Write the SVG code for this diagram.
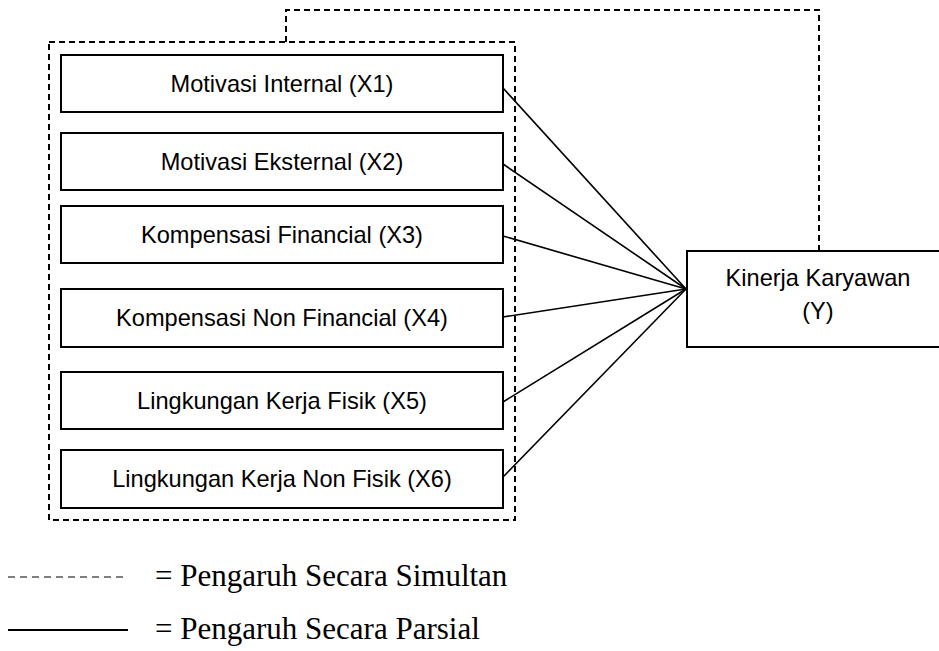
<svg xmlns="http://www.w3.org/2000/svg" width="939" height="651" viewBox="0 0 939 651">
<style>
.box{fill:#fff;stroke:#000;stroke-width:2}
.lbl{font-family:"Liberation Sans",Arial,sans-serif;font-size:23.6px;fill:#000;text-anchor:middle}
.dash{fill:none;stroke:#000;stroke-width:2;stroke-dasharray:6 4}
.solid{fill:none;stroke:#000;stroke-width:1.6}
.leg{font-family:"Liberation Serif","Times New Roman",serif;font-size:31px;fill:#000}
</style>
<g id="connectors">
<path class="dash" d="M49,42 H515 V520 H49 Z"/>
<path class="dash" d="M286,42 V10 H819 V251"/>
<line class="solid" x1="503" y1="88" x2="686" y2="289"/>
<line class="solid" x1="503" y1="164" x2="686" y2="289"/>
<line class="solid" x1="503" y1="236" x2="686" y2="289"/>
<line class="solid" x1="503" y1="317" x2="686" y2="289"/>
<line class="solid" x1="503" y1="402" x2="686" y2="289"/>
<line class="solid" x1="503" y1="477" x2="686" y2="289"/>
</g>
<g id="x1"><rect class="box" x="61" y="55" width="442" height="57"/><text class="lbl" x="282" y="92">Motivasi Internal (X1)</text></g>
<g id="x2"><rect class="box" x="61" y="133" width="442" height="57"/><text class="lbl" x="282" y="170">Motivasi Eksternal (X2)</text></g>
<g id="x3"><rect class="box" x="61" y="206" width="442" height="57"/><text class="lbl" x="282" y="243">Kompensasi Financial (X3)</text></g>
<g id="x4"><rect class="box" x="61" y="289" width="442" height="58"/><text class="lbl" x="282" y="326">Kompensasi Non Financial (X4)</text></g>
<g id="x5"><rect class="box" x="61" y="372" width="442" height="57"/><text class="lbl" x="282" y="409">Lingkungan Kerja Fisik (X5)</text></g>
<g id="x6"><rect class="box" x="61" y="450" width="442" height="58"/><text class="lbl" x="282" y="487">Lingkungan Kerja Non Fisik (X6)</text></g>
<g id="y"><rect class="box" x="687" y="251" width="262" height="96"/><text class="lbl" x="818" y="286">Kinerja Karyawan</text><text class="lbl" x="818" y="319">(Y)</text></g>
<g id="legend">
<line x1="8" y1="577" x2="128" y2="577" stroke="#000" stroke-width="1.2" stroke-dasharray="7 5"/>
<text class="leg" x="155" y="586">= Pengaruh Secara Simultan</text>
<line x1="8" y1="630" x2="128" y2="630" stroke="#000" stroke-width="2"/>
<text class="leg" x="155" y="639">= Pengaruh Secara Parsial</text>
</g>
</svg>
